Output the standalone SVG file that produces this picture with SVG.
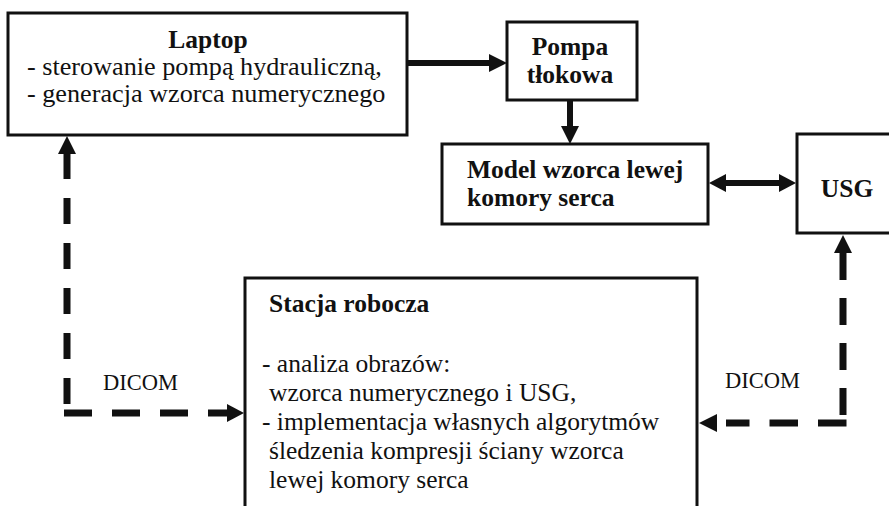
<svg xmlns="http://www.w3.org/2000/svg" width="889" height="506" viewBox="0 0 889 506">
<style>
.box{fill:#fff;stroke:#111;stroke-width:3}
.t{font-family:"Liberation Serif","Times New Roman",serif;font-size:25.5px;fill:#111}
.b{font-weight:bold}
.lt{font-size:26.2px}
.lbl{font-family:"Liberation Serif","Times New Roman",serif;font-size:22.5px;fill:#111}
.solid{stroke:#111;stroke-width:6;fill:none}
.dash{stroke:#111;stroke-width:7;fill:none}
.head{fill:#111}
</style>
<rect width="889" height="506" fill="#fff"/>
<g id="laptop">
<rect class="box" x="8" y="13" width="399" height="122"/>
<text class="t b" x="208" y="48" text-anchor="middle">Laptop</text>
<text class="t lt" x="27" y="75">- sterowanie pompą hydrauliczną,</text>
<text class="t lt" x="27" y="102">- generacja wzorca numerycznego</text>
</g>
<g id="pompa">
<rect class="box" x="507" y="22" width="130" height="78"/>
<text class="t b" x="570" y="55" text-anchor="middle">Pompa</text>
<text class="t b" x="570" y="83" text-anchor="middle">tłokowa</text>
</g>
<g id="model">
<rect class="box" x="442" y="144" width="266" height="80"/>
<text class="t b" x="467" y="178">Model wzorca lewej</text>
<text class="t b" x="467" y="206">komory serca</text>
</g>
<g id="usg">
<rect class="box" x="797" y="134" width="110" height="99"/>
<text class="t b" x="847" y="197" text-anchor="middle">USG</text>
</g>
<g id="stacja">
<rect class="box" x="245" y="278" width="452" height="250"/>
<text class="t b" x="269" y="312">Stacja robocza</text>
<text class="t" x="262" y="372">- analiza obrazów:</text>
<text class="t" x="269" y="401">wzorca numerycznego i USG,</text>
<text class="t" x="262" y="430">- implementacja własnych algorytmów</text>
<text class="t" x="269" y="459">śledzenia kompresji ściany wzorca</text>
<text class="t" x="269" y="488">lewej komory serca</text>
</g>
<g id="connectors">
<line class="solid" x1="407" y1="63" x2="492" y2="63"/>
<polygon class="head" points="489,54 507,63 489,72"/>
<line class="solid" x1="570" y1="100" x2="570" y2="128"/>
<polygon class="head" points="561,126 570,144 579,126"/>
<line class="solid" x1="722" y1="183" x2="783" y2="183"/>
<polygon class="head" points="709,183 726,174 726,192"/>
<polygon class="head" points="796,183 779,174 779,192"/>
<path class="dash" d="M67,153 V410" stroke-dasharray="26 19"/>
<path class="dash" d="M64,413 H228" stroke-dasharray="28 20"/>
<polygon class="head" points="58,154 67,136 76,154"/>
<polygon class="head" points="227,404 244,413 227,422"/>
<path class="dash" d="M843,253 V420" stroke-dasharray="27 18"/>
<path class="dash" d="M846.5,423 H726" stroke-dasharray="28.5 20"/>
<polygon class="head" points="834,253 843,235 852,253"/>
<polygon class="head" points="717,414 699,423 717,432"/>
<text class="lbl" x="103" y="390">DICOM</text>
<text class="lbl" x="725" y="388">DICOM</text>
</g>
</svg>
